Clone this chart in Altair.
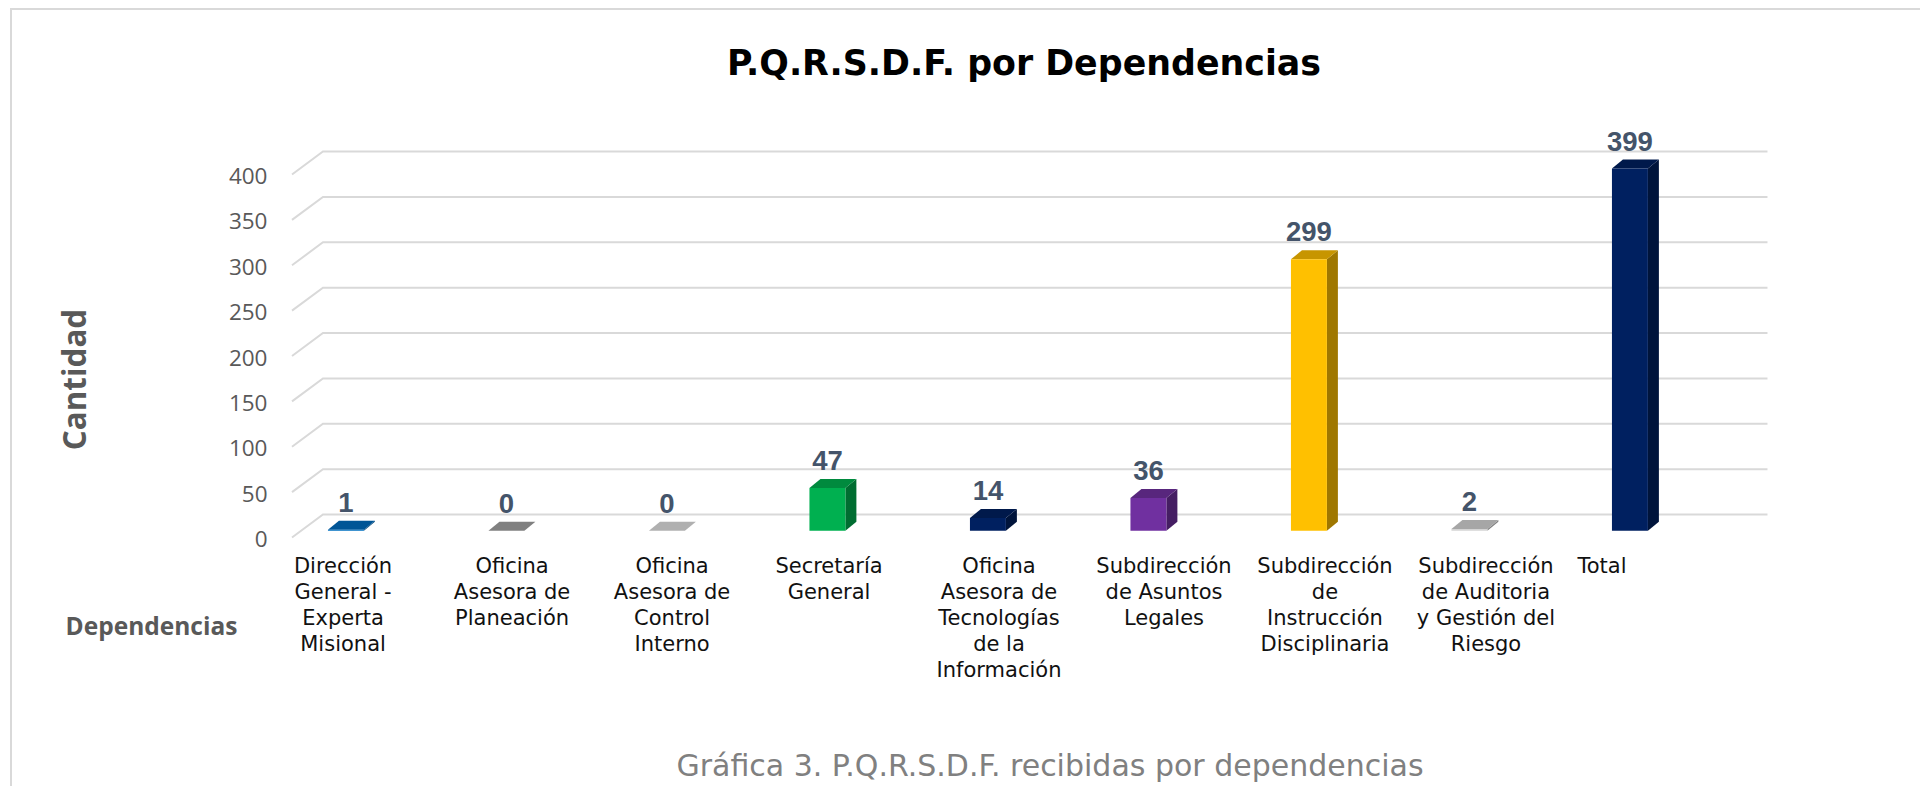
import altair as alt
import pandas as pd

# ---- values
categories = [
    "Dirección\nGeneral -\nExperta\nMisional",
    "Oficina\nAsesora de\nPlaneación",
    "Oficina\nAsesora de\nControl\nInterno",
    "Secretaría\nGeneral",
    "Oficina\nAsesora de\nTecnologías\nde la\nInformación",
    "Subdirección\nde Asuntos\nLegales",
    "Subdirección\nde\nInstrucción\nDisciplinaria",
    "Subdirección\nde Auditoria\ny Gestión del\nRiesgo",
    "Total",
]
values = [1, 0, 0, 47, 14, 36, 299, 2, 399]
front_colors = ["#0070C0", "#A5A5A5", "#D9D9D9", "#00B050", "#002060", "#7030A0", "#FFC000", "#D4D4D4", "#002060"]
top_colors = ["#005596", "#808080", "#B0B0B0", "#008A3E", "#00194B", "#58267D", "#C79500", "#A6A6A6", "#00194B"]
side_colors = ["#004577", "#666666", "#878787", "#006D31", "#00143B", "#451E63", "#9F7700", "#838383", "#00143B"]
y_ticks = [0, 50, 100, 150, 200, 250, 300, 350, 400]
label_pos = [0.318, 1.371, 2.368, 3.346, 4.405, 5.433, 6.436, 7.439, 8.162]

TITLE = "P.Q.R.S.D.F. por Dependencias"
CAPTION = "Gráfica 3. P.Q.R.S.D.F. recibidas por dependencias"

# ---- pseudo-3D geometry, in data units
floor_dx, floor_dy = 0.193, 25.3
bar_start, bar_w, bar_dx, bar_dy, bar_base = 0.224, 0.224, 0.0685, 9.9, 7.5

front, side, top, grid = [], [], [], []
for i, (v, fc, tc, sc) in enumerate(zip(values, front_colors, top_colors, side_colors)):
    l = i + bar_start
    r = l + bar_w
    t = bar_base + v
    front.append(dict(x=l, r=r, y=bar_base, t=t, c=fc, v=v, mid=(l + r) / 2, i=i, cat=categories[i], lp=label_pos[i]))
    side.append(dict(i=i, x=r, y=bar_base, y2=t, c=sc))
    side.append(dict(i=i, x=r + bar_dx, y=bar_base + bar_dy, y2=t + bar_dy, c=sc))
    top.append(dict(i=i, y=t, x=l, x2=r, c=tc))
    top.append(dict(i=i, y=t + bar_dy, x=l + bar_dx, x2=r + bar_dx, c=tc))
for tick in y_ticks:
    grid.append(dict(tick=tick, k=0, x=0, y=tick))
    grid.append(dict(tick=tick, k=1, x=floor_dx, y=tick + floor_dy))
    grid.append(dict(tick=tick, k=2, x=9 + floor_dx, y=tick + floor_dy))

front, side, top, grid = map(pd.DataFrame, (front, side, top, grid))

xs = alt.Scale(domain=[0, 9], range=[284, 1728.5], clamp=False)
ys = alt.Scale(domain=[0, 400], range=[529.5, 166.5], clamp=False)
X = alt.X("x:Q", scale=xs, axis=alt.Axis(
    title="Dependencias", labels=False, ticks=False, domain=False, grid=False,
    titleFont="Open Sans", titleFontWeight="bold", titleFontSize=24.5, titleColor="#595959",
    titleAlign="center", titleBaseline="middle", titleX=143, titleY=-159))
Y = alt.Y("y:Q", scale=ys, axis=alt.Axis(
    title="Cantidad", values=y_ticks, ticks=False, domain=False, grid=False, offset=-259, labelPadding=0,
    labelOffset=2,
    labelFont="Open Sans", labelFontSize=22.5, labelColor="#595959",
    titleFont="Open Sans", titleFontWeight="bold", titleFontSize=31.4, titleColor="#595959",
    titleAlign="center", titleBaseline="middle", titleAngle=270, titleX=-191, titleY=371))
x_plain = alt.X("x:Q", scale=xs)
y_plain = alt.Y("y:Q", scale=ys)

gridl = alt.Chart(grid).mark_line(stroke="#D9D9D9", strokeWidth=2).encode(
    x=X, y=Y, detail="tick:N", order="k:Q")
sides = alt.Chart(side).mark_area().encode(
    x=x_plain, y=y_plain, y2="y2:Q",
    color=alt.Color("c:N", scale=None), detail="i:N")
tops = alt.Chart(top).mark_area(orient="horizontal").encode(
    y=y_plain, x=x_plain, x2="x2:Q",
    color=alt.Color("c:N", scale=None), detail="i:N")
fronts = alt.Chart(front).mark_rect().encode(
    x=x_plain, x2="r:Q", y=y_plain, y2="t:Q",
    color=alt.Color("c:N", scale=None))
val_text = alt.Chart(front).mark_text(
    font="Liberation Sans", fontWeight="bold", fontSize=27.5, color="#44546A", dy=-26, baseline="middle"
).encode(x=alt.X("mid:Q", scale=xs), y=alt.Y("t:Q", scale=ys), text="v:Q")
cat_text = alt.Chart(front).mark_text(
    font="DejaVu Sans", fontSize=21, color="#111111", lineBreak="\n", lineHeight=26, baseline="top", align="center"
).encode(x=alt.X("lp:Q", scale=xs), y=alt.value(548), text="cat:N")
caption = alt.Chart(pd.DataFrame({"t": [CAPTION]})).mark_text(
    font="DejaVu Sans", fontSize=30, color="#808080", baseline="middle", align="center"
).encode(x=alt.value(1042), y=alt.value(759), text="t:N")
border_left = alt.Chart(pd.DataFrame({"a": [0]})).mark_rule(stroke="#D9D9D9", strokeWidth=2).encode(
    x=alt.value(3), y=alt.value(0), y2=alt.value(790))
border_top = alt.Chart(pd.DataFrame({"a": [0]})).mark_rule(stroke="#D9D9D9", strokeWidth=2).encode(
    y=alt.value(1), x=alt.value(3), x2=alt.value(1925))

chart = alt.layer(
    gridl, border_left, border_top, sides, tops, fronts, val_text, cat_text, caption
).resolve_scale(color="independent").properties(
    width=1912, height=778,
    padding=0,
    autosize=alt.AutoSizeParams(type="none"),
    title=alt.TitleParams(TITLE, font="DejaVu Sans", fontWeight="bold", fontSize=34.8, color="#000000",
                          anchor="middle", frame="group", baseline="middle", dx=60, dy=93, offset=0),
).configure_view(stroke=None)

chart.save("out.html", embed_options={"renderer": "svg", "actions": False})
